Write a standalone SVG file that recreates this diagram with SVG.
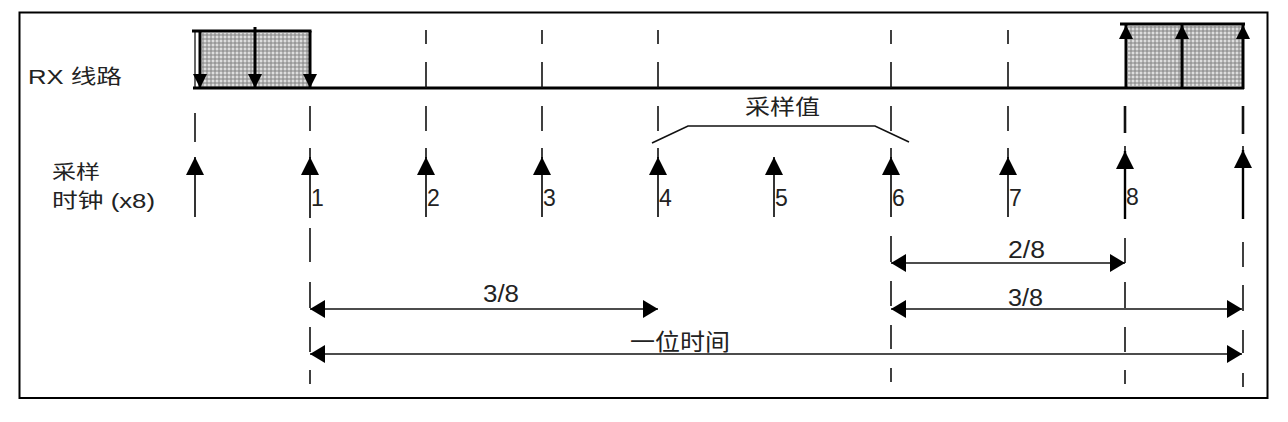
<svg xmlns="http://www.w3.org/2000/svg" width="1288" height="422" viewBox="0 0 1288 422">
<style>
text{font-family:"Liberation Sans","Noto Sans CJK SC",sans-serif;fill:#222;}
.cjk{font-family:"Noto Sans CJK SC","Liberation Sans",sans-serif;}
.num{font-size:23px;}
.dash{stroke:#111;stroke-width:1.6;fill:none;}
.dashb{stroke:#111;stroke-width:2.6;fill:none;}
.thick{stroke:#000;stroke-width:3;fill:none;}
.clk{stroke:#000;stroke-width:1.6;fill:none;marker-end:url(#clkhead);}
.clkb{stroke:#000;stroke-width:2.4;fill:none;marker-end:url(#clkhead);}
.dim{stroke:#111;stroke-width:1.6;fill:none;marker-start:url(#dimhead);marker-end:url(#dimhead);}
.edge{stroke:#000;stroke-width:3;fill:none;}
</style>
<defs>
<pattern id="stip" width="4" height="4" patternUnits="userSpaceOnUse">
<rect width="4" height="4" fill="#b0b0b0"/>
<circle cx="1" cy="1" r="0.9" fill="#f4f4f4"/>
<circle cx="3" cy="3" r="0.7" fill="#707070"/>
</pattern>
<marker id="clkhead" viewBox="0 0 18 18" refX="18" refY="9" markerWidth="18" markerHeight="18" markerUnits="userSpaceOnUse" orient="auto">
<path d="M0,0 L18,9 L0,18 z" fill="#000"/>
</marker>
<marker id="dimhead" viewBox="0 0 15 18" refX="15" refY="9" markerWidth="15" markerHeight="18" markerUnits="userSpaceOnUse" orient="auto-start-reverse">
<path d="M0,0 L15,9 L0,18 z" fill="#000"/>
</marker>
<marker id="edgehead" viewBox="0 0 14 14" refX="14" refY="7" markerWidth="14" markerHeight="14" markerUnits="userSpaceOnUse" orient="auto">
<path d="M0,0 L14,7 L0,14 z" fill="#000"/>
</marker>
</defs>

<rect id="frame" x="19.5" y="12.5" width="1248" height="385.5" fill="#fff" stroke="#000" stroke-width="2"/>

<g id="labels">
<text x="28" y="84" font-size="20" textLength="94" lengthAdjust="spacingAndGlyphs">RX <tspan class="cjk">线路</tspan></text>
<text class="cjk" x="52" y="179" font-size="19" textLength="48" lengthAdjust="spacingAndGlyphs">采样</text>
<text x="52" y="208" font-size="20" textLength="103" lengthAdjust="spacingAndGlyphs"><tspan class="cjk">时钟</tspan> (x8)</text>
<text class="cjk" x="745" y="114" font-size="21" textLength="75" lengthAdjust="spacingAndGlyphs">采样值</text>
</g>

<g id="start-bit">
<rect x="202" y="33" width="107" height="54" fill="url(#stip)"/>
<line x1="192" y1="31" x2="311.5" y2="31" class="thick"/>
<line x1="195" y1="31" x2="195" y2="88" stroke="#000" stroke-width="1.2"/>
<line x1="200" y1="31" x2="200" y2="88" class="edge" marker-end="url(#edgehead)"/>
<line x1="255" y1="27" x2="255" y2="88" class="edge" marker-end="url(#edgehead)"/>
<line x1="310" y1="31" x2="310" y2="88" class="edge" marker-end="url(#edgehead)"/>
</g>

<g id="stop-bit">
<rect x="1128" y="26" width="114" height="60" fill="url(#stip)"/>
<line x1="1120" y1="24" x2="1245" y2="24" class="thick"/>
<line x1="1126" y1="89" x2="1126" y2="25" class="edge" marker-end="url(#edgehead)"/>
<line x1="1182" y1="89" x2="1182" y2="25" class="edge" marker-end="url(#edgehead)"/>
<line x1="1243" y1="89" x2="1243" y2="25" class="edge" marker-end="url(#edgehead)"/>
</g>

<g id="rx-line">
<line x1="193" y1="88" x2="1244" y2="88" class="thick"/>
</g>

<g id="grid">
<path class="dash" d="M426,30V44M426,62V88M542,30V44M542,62V88M658,30V44M658,62V88M891,30V44M891,62V88M1008,30V44M1008,62V88"/>
<path class="dash" d="M195,113V142M310,106V131M426,106V131M542,106V131M658,106V131M891,106V131M1008,106V131"/>
<path class="dashb" d="M1125,106V133M1243,106V134"/>
<path class="dash" d="M310,148V158M426,148V158M542,148V158M658,148V158M891,148V158M1008,148V158M1125,146V152M1243,146V152"/>
<path class="dash" d="M310,228V262M310,282V308M310,327V352M310,370V384"/>
<path class="dash" d="M891,236V262M891,281V306M891,325V349M891,368V382"/>
<path class="dash" d="M1125,238V263M1125,282V308M1125,327V352M1125,370V384"/>
<path class="dash" d="M1243,242V267M1243,285V311M1243,330V353M1243,373V387"/>
</g>

<g id="clock-arrows">
<line class="clk" x1="195" y1="217" x2="195" y2="157"/>
<line class="clk" x1="310" y1="218" x2="310" y2="157"/>
<line class="clk" x1="426" y1="217" x2="426" y2="157"/>
<line class="clk" x1="542" y1="217" x2="542" y2="157"/>
<line class="clk" x1="658" y1="217" x2="658" y2="157"/>
<line class="clk" x1="774" y1="217" x2="774" y2="157"/>
<line class="clk" x1="891" y1="217" x2="891" y2="157"/>
<line class="clk" x1="1008" y1="217" x2="1008" y2="157"/>
<line class="clkb" x1="1125" y1="219" x2="1125" y2="151"/>
<line class="clkb" x1="1243" y1="219" x2="1243" y2="150"/>
</g>

<g id="clock-numbers">
<text class="num" x="311" y="206">1</text>
<text class="num" x="427" y="206">2</text>
<text class="num" x="543" y="206">3</text>
<text class="num" x="659" y="206">4</text>
<text class="num" x="775" y="206">5</text>
<text class="num" x="892" y="206">6</text>
<text class="num" x="1009" y="206">7</text>
<text class="num" x="1126" y="205">8</text>
</g>

<g id="sample-bracket">
<polyline points="652,143 688,126 875,126 909,142" fill="none" stroke="#111" stroke-width="1.6"/>
</g>

<g id="connectors">
<line class="dim" x1="310" y1="309" x2="658" y2="309"/>
<line class="dim" x1="891" y1="263" x2="1125" y2="263"/>
<line class="dim" x1="891" y1="309" x2="1242" y2="309"/>
<line class="dim" x1="310" y1="354" x2="1242" y2="354"/>
</g>

<g id="dim-labels">
<text x="483" y="302" font-size="23" textLength="36" lengthAdjust="spacingAndGlyphs">3/8</text>
<text x="1008" y="258" font-size="23" textLength="37" lengthAdjust="spacingAndGlyphs">2/8</text>
<text x="1008" y="306" font-size="23" textLength="35" lengthAdjust="spacingAndGlyphs">3/8</text>
<text class="cjk" x="630" y="350" font-size="23" textLength="100" lengthAdjust="spacingAndGlyphs">一位时间</text>
</g>
</svg>
